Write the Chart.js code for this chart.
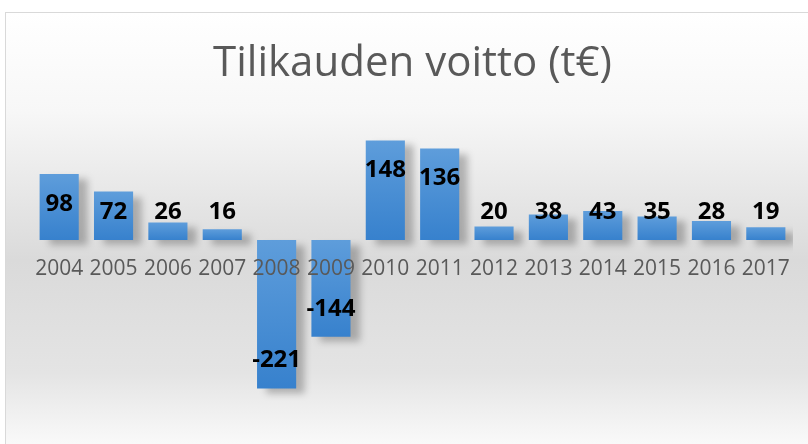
<!DOCTYPE html>
<html>
<head>
<meta charset="utf-8">
<script src="https://cdn.jsdelivr.net/npm/chart.js@4/dist/chart.umd.min.js"></script>
<style>
    html, body { margin: 0; padding: 0; background: #fff; overflow: hidden; }
    #frame {
        position: absolute; left: 5px; top: 12px; width: 820px; height: 450px;
        border: 1px solid #d9d9d9;
        background: linear-gradient(to bottom, #ffffff 0%, #f7f7f7 22%, #dadada 55%, #e4e4e4 80%, #ffffff 100%);
    }
    #wrap { position: absolute; left: 0; top: 0; width: 808px; height: 444px; }
</style>
</head>
<body>
<div id="frame"></div>
<div id="wrap"><canvas id="profitChart" width="808" height="444"></canvas></div>
<script>
const years = ['2004', '2005', '2006', '2007', '2008', '2009', '2010', '2011', '2012', '2013', '2014', '2015', '2016', '2017'];
const profit = [98, 72, 26, 16, -221, -144, 148, 136, 20, 38, 43, 35, 28, 19];
const chartTitle = 'Tilikauden voitto (t€)';

const barShadow = {
    id: 'barShadow',
    beforeDatasetsDraw(chart) {
        const ctx = chart.ctx;
        ctx.save();
        ctx.shadowColor = 'rgba(0,0,0,0.25)';
        ctx.shadowBlur = 7;
        ctx.shadowOffsetX = 9;
        ctx.shadowOffsetY = 5;
    },
    afterDatasetsDraw(chart) {
        chart.ctx.restore();
    }
};

const barLabels = {
    id: 'barLabels',
    afterDraw(chart) {
        const ctx = chart.ctx;
        const zeroY = chart.scales.y.getPixelForValue(0);
        const meta = chart.getDatasetMeta(0);
        ctx.save();
        ctx.textAlign = 'center';
        ctx.textBaseline = 'middle';
        // year labels under the zero line
        ctx.fillStyle = '#595959';
        ctx.font = '21px "Open Sans", sans-serif';
        years.forEach(function (y, i) {
            ctx.fillText(y, chart.scales.x.getPixelForValue(i), zeroY + 29);
        });
        // value labels
        ctx.fillStyle = '#000';
        ctx.font = 'bold 24px "Open Sans", sans-serif';
        meta.data.forEach(function (bar, i) {
            const v = profit[i];
            let y;
            if (v >= 0) {
                y = Math.min(bar.y + 30, zeroY - 28);
            } else {
                y = bar.y - 28;
            }
            ctx.fillText(String(v), bar.x, y);
        });
        ctx.restore();
    }
};

const ctx = document.getElementById('profitChart').getContext('2d');

new Chart(ctx, {
    type: 'bar',
    data: {
        labels: years,
        datasets: [{
            data: profit,
            backgroundColor: function (context) {
                const chart = context.chart;
                if (!chart.chartArea) return '#4a8fd6';
                const yScale = chart.scales.y;
                const v = context.raw;
                const top = yScale.getPixelForValue(Math.max(v, 0));
                const bottom = yScale.getPixelForValue(Math.min(v, 0));
                const g = chart.ctx.createLinearGradient(0, top, 0, bottom + 0.01);
                g.addColorStop(0, '#5e9ddb');
                g.addColorStop(1, '#3781cd');
                return g;
            },
            borderWidth: 0,
            barPercentage: 0.72,
            categoryPercentage: 1
        }]
    },
    options: {
        responsive: false,
        animation: false,
        layout: {
            padding: { left: 32, right: 15, top: 38, bottom: 36 }
        },
        scales: {
            x: { display: false },
            y: { display: false, min: -250, max: 200 }
        },
        plugins: {
            legend: { display: false },
            tooltip: { enabled: false },
            title: {
                display: true,
                text: chartTitle,
                color: '#595959',
                font: { family: '"Open Sans", sans-serif', size: 42, weight: 'normal', lineHeight: 1.25 },
                padding: { top: 0, bottom: 15 }
            }
        }
    },
    plugins: [barShadow, barLabels]
});
</script>
</body>
</html>
